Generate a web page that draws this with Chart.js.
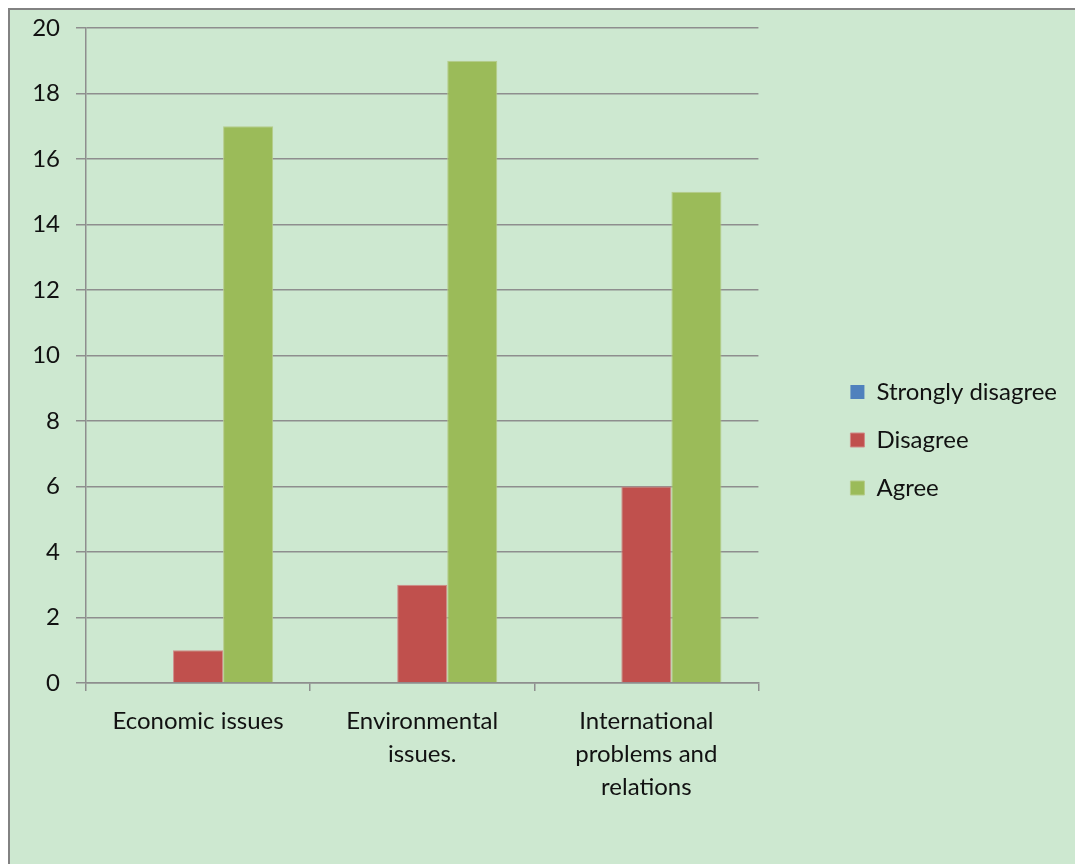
<!DOCTYPE html>
<html>
<head>
<meta charset="utf-8">
<title>Survey responses by topic</title>
<script src="https://cdn.jsdelivr.net/npm/chart.js@4/dist/chart.umd.min.js"></script>
<style>
  body { margin: 0; background: #fff; }
  #frame {
    position: absolute; left: 8px; top: 8px;
    width: 1100px; height: 900px;
    border: 2px solid #828282;
    background: #cde8d0;
  }
  #wrap { position: absolute; left: 0; top: 0; width: 1075px; height: 864px; }
</style>
</head>
<body>
<div id="frame"></div>
<div id="wrap"><canvas id="grafico" width="1075" height="864"></canvas></div>
<script>
const categorias = [
    ['Economic issues'],
    ['Environmental', 'issues.'],
    ['International', 'problems and', 'relations']
];
const stronglyDisagree = [0, 0, 0];
const disagree = [1, 3, 6];
const agree = [17, 19, 15];
const yTicks = { min: 0, max: 20, step: 2 };

const fuente = "Lato, 'Open Sans', sans-serif";
const gris = '#8e8e8e';

const ctx = document.getElementById('grafico').getContext('2d');

const grafico = new Chart(ctx, {
    type: 'bar',
    data: {
        labels: categorias,
        datasets: [
            {
                label: 'Strongly disagree',
                data: stronglyDisagree,
                backgroundColor: '#4f81bd',
                borderColor: '#4f81bd',
                borderWidth: 0
            },
            {
                label: 'Disagree',
                data: disagree,
                backgroundColor: '#c0504d',
                borderColor: '#d08a88',
                borderWidth: 1
            },
            {
                label: 'Agree',
                data: agree,
                backgroundColor: '#9bbb59',
                borderColor: '#b5cc8a',
                borderWidth: 1
            }
        ]
    },
    options: {
        responsive: false,
        animation: false,
        layout: { padding: { top: 28, right: 8, bottom: 12, left: 0 } },
        datasets: {
            bar: { categoryPercentage: 0.67, barPercentage: 1 }
        },
        plugins: {
            tooltip: { enabled: false },
            legend: {
                position: 'right',
                align: 'center',
                maxWidth: 320,
                labels: {
                    boxWidth: 14,
                    boxHeight: 14,
                    padding: 24,
                    color: '#111',
                    font: { family: fuente, size: 24 }
                }
            }
        },
        scales: {
            x: {
                grid: {
                    display: true,
                    drawOnChartArea: false,
                    tickLength: 8,
                    color: gris,
                    lineWidth: 1.5
                },
                border: { color: gris, width: 1.5 },
                ticks: {
                    color: '#111',
                    padding: 14,
                    maxRotation: 0,
                    autoSkip: false,
                    font: { family: fuente, size: 24, lineHeight: 1.375 }
                },
                afterFit: scale => { scale.height = 169; }
            },
            y: {
                min: yTicks.min,
                max: yTicks.max,
                ticks: {
                    stepSize: yTicks.step,
                    color: '#111',
                    padding: 16,
                    font: { family: fuente, size: 24, lineHeight: 1 }
                },
                grid: { color: gris, lineWidth: 1.5, tickLength: 10 },
                border: { color: gris, width: 1.5 },
                afterFit: scale => { scale.width = 86; }
            },
            // empty axis on the right, only to leave room before the legend
            hueco: {
                type: 'linear',
                position: 'right',
                display: true,
                grid: { display: false, drawTicks: false },
                border: { display: false },
                ticks: { display: false },
                afterFit: scale => { scale.width = 68; }
            }
        }
    }
});
</script>
</body>
</html>
